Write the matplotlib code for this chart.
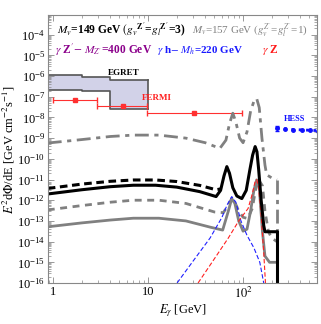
import numpy as np
import matplotlib
matplotlib.use("Agg")
import matplotlib.pyplot as plt
from matplotlib.ticker import LogLocator, NullFormatter

plt.rcParams['font.family'] = ['Liberation Serif', 'DejaVu Serif']
plt.rcParams['mathtext.fontset'] = 'stix'

# ---- data ----
# total spectrum, M_v=149 GeV (solid black)
E_black = [0.88, 2, 4, 7, 12, 20, 35, 52, 58, 63, 67.5, 72, 78, 86, 97, 108, 118, 126, 134, 140, 146, 155, 165, 170, 190, 227]
F_black = [2.0e-12, 3.2e-12, 4.5e-12, 5.3e-12, 5.3e-12, 4.3e-12, 2.6e-12, 1.5e-12, 3e-12, 1.5e-11, 4.2e-11, 2.0e-11, 4e-12, 1.6e-12, 1.2e-12, 3e-12, 3e-11, 1.5e-10, 3.9e-10, 2.2e-10, 3e-11, 1e-12, 6e-14, 3e-14, 3e-14, 3e-14]
# continuum, M_v=149 GeV (dashed black)
E_blackd = [0.88, 2, 4, 7, 12, 20, 35, 52, 58]
F_blackd = [3.7e-12, 6e-12, 8.2e-12, 9.5e-12, 9.5e-12, 8e-12, 5.2e-12, 3.2e-12, 3.5e-12]
# total spectrum, M_v=157 GeV (dash-dot gray)
E_gdd = [0.88, 2, 4, 7, 13, 25, 40, 57, 66, 72, 78, 84, 92, 100, 110, 120, 130, 139, 148, 158, 170, 177, 200, 227]
F_gdd = [5.8e-10, 8.5e-10, 1.2e-9, 1.4e-9, 1.4e-9, 1.0e-9, 6e-10, 3.2e-10, 8e-10, 5e-9, 1.6e-8, 6e-9, 1e-9, 6e-10, 2e-9, 2e-8, 6e-8, 8.3e-8, 3e-8, 1e-9, 5e-11, 1.7e-11, 1.2e-11, 9.5e-12]
# M_v=157 (gray dashed)
E_gd = [0.88, 2, 4, 7, 13, 25, 50, 62, 70, 76, 82, 90, 100, 112, 125, 135, 145, 160, 170, 185, 200, 227]
F_gd = [3.4e-13, 5.5e-13, 8e-13, 1.0e-12, 1.0e-12, 7e-13, 2.7e-13, 2.5e-13, 6e-13, 1.2e-12, 8e-13, 3e-13, 1.5e-13, 1.3e-13, 4e-13, 3e-12, 1e-11, 5e-12, 3e-13, 3e-14, 1.5e-14, 1e-14]
# M_v=157 (gray solid)
E_gs = [0.88, 2, 4, 7, 13, 25, 45, 61, 70, 76, 82, 90, 100, 110, 120, 130, 139, 148, 160, 170, 190, 227]
F_gs = [5.2e-14, 8e-14, 1.1e-13, 1.35e-13, 1.35e-13, 1.0e-13, 5e-14, 3.6e-14, 3e-13, 1.2e-12, 7e-13, 1e-13, 3.2e-14, 4e-14, 3e-13, 3e-12, 9.6e-12, 4e-12, 3e-14, 2e-15, 1e-15, 1e-15]
# gamma h line (blue dashed)
E_h = [20.2, 30, 45, 60, 68, 76, 84, 95, 110, 130, 150, 165, 170]
F_h = [1e-16, 1.2e-15, 1.5e-14, 1.5e-13, 6e-13, 1.5e-12, 8e-13, 1e-13, 2e-14, 5e-15, 1e-15, 1e-16, 1e-17]
# gamma Z line (red dashed)
E_z = [33.6, 50, 70, 90, 113, 125, 133, 139, 145, 155, 165, 177]
F_z = [1e-16, 1.5e-15, 1.5e-14, 1e-13, 4e-13, 2e-12, 7e-12, 1.0e-11, 5e-12, 2e-13, 3e-15, 1e-17]

# EGRET band
E_egret = [0.5, 2, 4, 10]
egret_hi = [1.1e-6, 9.3e-7, 6.5e-7]
egret_lo = [2.1e-7, 1.9e-7, 2.6e-8]
# FERMI points
fermi_E = [1.7, 5.45, 30.5]
fermi_F = [6.9e-8, 3.5e-8, 1.6e-8]
fermi_lo = [1.0, 2.9, 9.8]
fermi_hi = [2.9, 9.8, 98]
# HESS
hess_E = [226, 276, 338, 415, 507, 611]
hess_F = [3.0e-9, 2.8e-9, 2.6e-9, 2.5e-9, 2.4e-9, 2.3e-9]

fig = plt.figure(figsize=(3.21, 3.24), dpi=100)
ax = fig.add_axes([48/321, 41/324, 269/321, 268/324])
ax.set_xscale('log'); ax.set_yscale('log')
ax.set_xlim(0.885, 600); ax.set_ylim(1e-16, 8.9e-4)

gray = '#808080'
# EGRET
for i in range(3):
    ax.fill_between([E_egret[i], E_egret[i+1]], egret_lo[i], egret_hi[i], color='#d2d2e8', lw=0)
ax.step(E_egret, egret_hi + [egret_hi[-1]], where='post', color='#555555', lw=1.2)
ax.step(E_egret, egret_lo + [egret_lo[-1]], where='post', color='#555555', lw=1.2)
ax.plot([10, 10], [egret_lo[-1], egret_hi[-1]], color='#555555', lw=1.2)
ax.text(5.6, 1.4e-6, 'EGRET', fontsize=6.5, fontweight='bold', ha='center', va='center')

# FERMI
fx = np.array(fermi_E); fy = np.array(fermi_F)
ax.errorbar(fx, fy, xerr=[fx - np.array(fermi_lo), np.array(fermi_hi) - fx], fmt='s', ms=2.5,
            color='#ff3030', ecolor='#ff3030', elinewidth=0.8, capsize=2.5)
ax.text(8.7, 8.7e-8, 'FERMI', fontsize=6.5, fontweight='bold', color='#ff2020', va='center')

# HESS
ax.plot(hess_E, hess_F, ':', color='#1010ff', lw=2.0, marker='o', ms=2.5)
ax.errorbar([hess_E[0]], [hess_F[0]], yerr=[[0.8e-9], [1.0e-9]], fmt='none', ecolor='#1010ff', elinewidth=0.8, capsize=1.5)
ax.text(345, 8e-9, 'HESS', fontsize=6, fontweight='bold', color='#1010ff', ha='center', va='center')

# curves
ax.plot(E_gdd, F_gdd, color=gray, lw=2.0, dashes=(5, 2, 1.5, 2))
ax.plot([227, 227], [F_gdd[-1], 1e-16], color=gray, lw=2.0, dashes=(5, 2, 1.5, 2))
ax.plot(E_gd, F_gd, color=gray, lw=2.0, dashes=(2.5, 2))
ax.plot(E_gs, F_gs, color=gray, lw=2.0)
ax.plot(E_h, F_h, color='#2020ff', lw=0.8, dashes=(4, 2))
ax.plot(E_z, F_z, color='#ff2020', lw=0.8, dashes=(4, 2))
ax.plot(E_blackd, F_blackd, color='black', lw=2.2, dashes=(2.5, 1.5))
ax.plot(E_black, F_black, color='black', lw=2.2)
ax.plot([227, 227], [F_black[-1], 1e-16], color='black', lw=2.2)

# texts
fs = 8.3
ax.text(0.033, 0.944, r'$\boldsymbol{M_v}$=149 GeV $(\boldsymbol{g_v}^{\mathbf{Z^\prime}}$=$\boldsymbol{g_l}^{\mathbf{Z^\prime}}$=3)',
        transform=ax.transAxes, fontsize=fs, fontweight='bold', va='center')
ax.text(0.535, 0.944, r'$M_v$=157 GeV $(g_v^{Z^\prime}$=$g_l^{Z^\prime}$=1)',
        transform=ax.transAxes, fontsize=7.9, color=gray, va='center')
ax.text(0.026, 0.869, r'$\gamma$ Z$^\prime$$-$ $\boldsymbol{M_{Z^\prime}}$=400 GeV', transform=ax.transAxes,
        fontsize=fs, fontweight='bold', color='#8b008b', va='center')
ax.text(0.405, 0.869, r'$\gamma$ h$-$ $\boldsymbol{M_h}$=220 GeV', transform=ax.transAxes,
        fontsize=7.9, fontweight='bold', color='#1a1aff', va='center')
ax.text(0.796, 0.869, r'$\gamma$ Z', transform=ax.transAxes,
        fontsize=fs, fontweight='bold', color='#ff1a1a', va='center')

ax.set_xlabel(r'$E_\gamma$ [GeV]', fontsize=9, labelpad=1)
ax.set_ylabel(r'$E^2$d$\Phi$/dE [GeV cm$^{-2}$s$^{-1}$]', fontsize=9, labelpad=0)

ax.yaxis.set_major_locator(LogLocator(base=10, numticks=30))
ax.yaxis.set_minor_locator(LogLocator(base=10, subs=np.arange(2, 10), numticks=30))
ax.yaxis.set_minor_formatter(NullFormatter())
ax.xaxis.set_minor_locator(LogLocator(base=10, subs=np.arange(2, 10), numticks=10))
ax.xaxis.set_minor_formatter(NullFormatter())
ax.set_xticks([1, 10, 100])
ax.set_xticklabels(['1', '10', r'$10^2$'])
ax.tick_params(which='both', direction='in', top=True, right=True, labelsize=9, pad=2)
ax.tick_params(which='major', length=4, width=0.6, color='#888888')
ax.tick_params(which='minor', length=2, width=0.5, color='#888888')
for s in ax.spines.values():
    s.set_color('#888888'); s.set_linewidth(0.8)

fig.savefig('out.png', dpi=100)
